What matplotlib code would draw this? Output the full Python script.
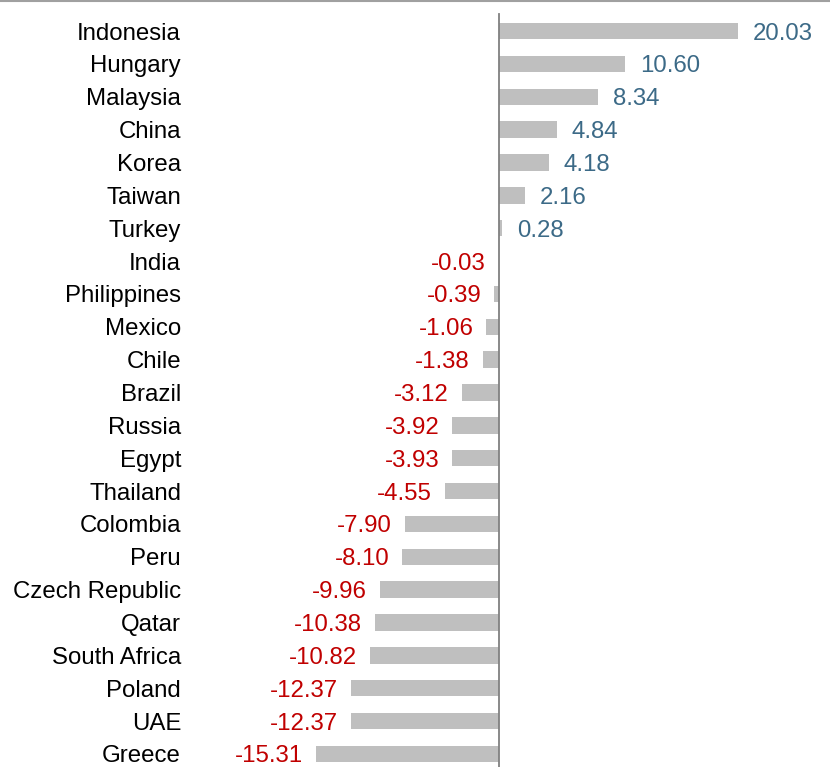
import matplotlib
matplotlib.use("Agg")
import matplotlib.pyplot as plt
from matplotlib.lines import Line2D

countries = ["Indonesia", "Hungary", "Malaysia", "China", "Korea", "Taiwan", "Turkey",
             "India", "Philippines", "Mexico", "Chile", "Brazil", "Russia", "Egypt",
             "Thailand", "Colombia", "Peru", "Czech Republic", "Qatar", "South Africa",
             "Poland", "UAE", "Greece"]
values = [20.03, 10.60, 8.34, 4.84, 4.18, 2.16, 0.28,
          -0.03, -0.39, -1.06, -1.38, -3.12, -3.92, -3.93,
          -4.55, -7.90, -8.10, -9.96, -10.38, -10.82,
          -12.37, -12.37, -15.31]

plt.rcParams['font.family'] = ['Liberation Sans', 'DejaVu Sans']
FS = 17.3

W, H = 830, 767
fig = plt.figure(figsize=(W / 100, H / 100), dpi=100)
left_px = 195
ax = fig.add_axes([left_px / W, 0, 1 - left_px / W, 1])

y = list(range(len(countries)))
ax.barh(y, values, height=0.5, color="#BFBFBF", zorder=2)

scale = 11.93  # px per unit
x0 = 499
ax.set_xlim((left_px - x0) / scale, (W - x0) / scale)
row = 32.86
top_idx = -31 / row
bot_idx = 22 + 13 / row
ax.set_ylim(bot_idx, top_idx)

dy = 2.5 / row
for i, v in enumerate(values):
    if v >= 0:
        ax.text(v + 15 / scale, i + dy, f"{v:.2f}", va="center", ha="left",
                fontsize=FS, color="#3C6A87")
    else:
        ax.text(v - 13 / scale, i + dy, f"{v:.2f}", va="center", ha="right",
                fontsize=FS, color="#C00000")

ax.plot([0, 0], [top_idx + 14 / row, bot_idx],
        color="#808080", lw=1.3, zorder=3, clip_on=False)

ax.set_yticks(y)
ax.set_yticklabels(countries, fontsize=FS)
ax.tick_params(axis="y", length=0, pad=10)
ax.set_xticks([])
for s in ax.spines.values():
    s.set_visible(False)

fig.add_artist(Line2D([0, 1], [1 - 1 / H, 1 - 1 / H], transform=fig.transFigure,
                      color="#A0A0A0", lw=1.5))

fig.savefig("out.png", dpi=100)
